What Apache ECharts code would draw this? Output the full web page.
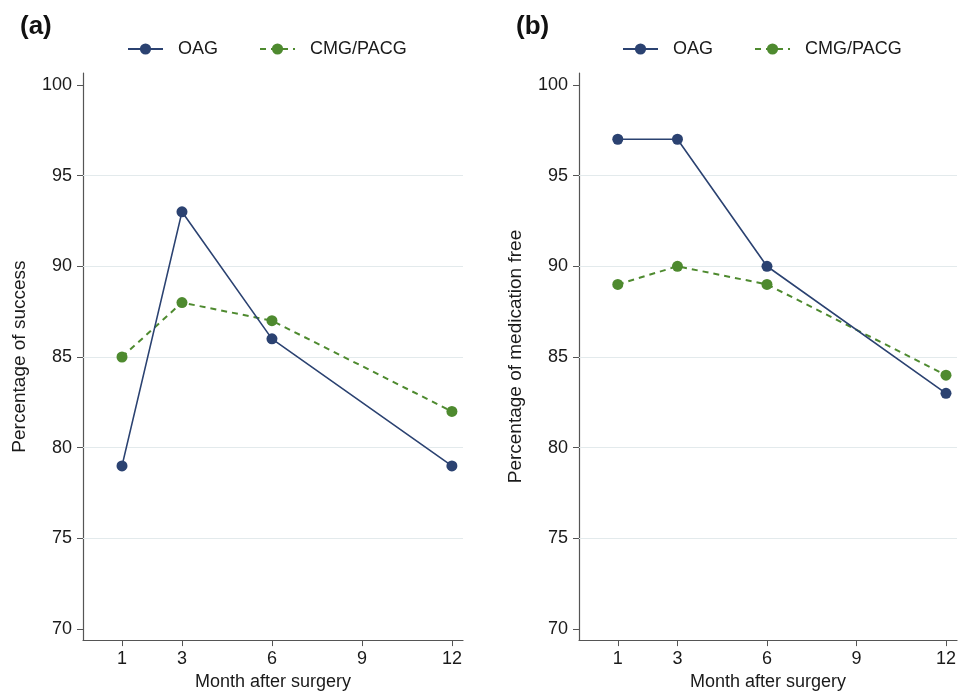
<!DOCTYPE html>
<html>
<head>
<meta charset="utf-8">
<script src="https://cdn.jsdelivr.net/npm/echarts@6/dist/echarts.min.js"></script>
<style>
  html, body { margin: 0; padding: 0; background: #fff; }
  #main { width: 959px; height: 696px; }
</style>
</head>
<body>
<div id="main"></div>
<script>
// data
var months = [1, 3, 6, 12]
var successOAG = [79, 93, 86, 79]
var successCMG = [85, 88, 87, 82]
var medFreeOAG = [97, 97, 90, 83]
var medFreeCMG = [89, 90, 89, 84]

var xTicks = [1, 3, 6, 9, 12]
var yTicks = [70, 75, 80, 85, 90, 95, 100]
var gridValues = [75, 80, 85, 90, 95]

var navy = '#2b4271'
var green = '#4e8a2f'
var font = 'Liberation Sans, Arial, Helvetica, sans-serif'

function pairs(xs, ys) {
    return xs.map(function (x, i) { return [x, ys[i]] })
}

function xAxisOf(idx) {
    return {
        type: 'value',
        gridIndex: idx,
        min: -0.3,
        max: 12.37,
        name: 'Month after surgery',
        nameLocation: 'middle',
        nameGap: 32,
        nameTextStyle: { color: '#1a1a1a', fontSize: 18, fontFamily: font },
        axisLine: { show: true, onZero: false, lineStyle: { color: '#555', width: 1.2 } },
        axisTick: { show: true, customValues: xTicks, length: 6, lineStyle: { color: '#555' } },
        axisLabel: { customValues: xTicks, color: '#1a1a1a', fontSize: 18, fontFamily: font, margin: 10 },
        splitLine: { show: false }
    }
}

function yAxisOf(idx, title) {
    return {
        type: 'value',
        gridIndex: idx,
        min: 69.4,
        max: 100.65,
        name: title,
        nameLocation: 'middle',
        nameGap: 54,
        nameTextStyle: { color: '#1a1a1a', fontSize: 19, fontFamily: font },
        axisLine: { show: true, onZero: false, lineStyle: { color: '#555', width: 1.2 } },
        axisTick: { show: true, customValues: yTicks, length: 6, lineStyle: { color: '#555' } },
        axisLabel: { customValues: yTicks, color: '#1a1a1a', fontSize: 18, fontFamily: font, margin: 11 },
        splitLine: { show: false }
    }
}

function lineSeries(name, idx, data, color, dashed, withGrid) {
    var s = {
        name: name,
        type: 'line',
        xAxisIndex: idx,
        yAxisIndex: idx,
        data: data,
        symbol: 'circle',
        symbolSize: 11,
        itemStyle: { color: color },
        lineStyle: { color: color, width: dashed ? 2 : 1.6, type: dashed ? [6, 5] : 'solid' },
        z: dashed ? 3 : 4
    }
    if (withGrid) {
        // light horizontal gridlines
        s.markLine = {
            silent: true,
            symbol: 'none',
            animation: false,
            label: { show: false },
            lineStyle: { color: '#e3eaec', width: 1, type: 'solid' },
            z: 1,
            data: gridValues.map(function (v) { return { yAxis: v } })
        }
    }
    return s
}

var chart = echarts.init(document.getElementById('main'))

var option = {
    backgroundColor: '#fff',
    animation: false,
    title: [
        { text: '(a)', left: 15, top: 9, textStyle: { fontSize: 26, fontWeight: 'bold', color: '#111', fontFamily: font } },
        { text: '(b)', left: 511, top: 9, textStyle: { fontSize: 26, fontWeight: 'bold', color: '#111', fontFamily: font } }
    ],
    legend: [
        {
            left: 127, top: 40, padding: 0,
            data: ['OAG', 'CMG/PACG'],
            itemWidth: 35, itemHeight: 14, itemGap: 41,
            textStyle: { fontSize: 18, color: '#1a1a1a', fontFamily: font, padding: [0, 0, 0, 10] }
        },
        {
            left: 622, top: 40, padding: 0,
            data: ['OAG', 'CMG/PACG'],
            itemWidth: 35, itemHeight: 14, itemGap: 41,
            textStyle: { fontSize: 18, color: '#1a1a1a', fontFamily: font, padding: [0, 0, 0, 10] }
        }
    ],
    grid: [
        { left: 83, right: 496, top: 73, bottom: 55 },
        { left: 579, right: 1, top: 73, bottom: 55 }
    ],
    xAxis: [xAxisOf(0), xAxisOf(1)],
    yAxis: [yAxisOf(0, 'Percentage of success'), yAxisOf(1, 'Percentage of medication free')],
    series: [
        lineSeries('OAG', 0, pairs(months, successOAG), navy, false, true),
        lineSeries('CMG/PACG', 0, pairs(months, successCMG), green, true, false),
        lineSeries('OAG', 1, pairs(months, medFreeOAG), navy, false, true),
        lineSeries('CMG/PACG', 1, pairs(months, medFreeCMG), green, true, false)
    ]
}

chart.setOption(option)
</script>
</body>
</html>
